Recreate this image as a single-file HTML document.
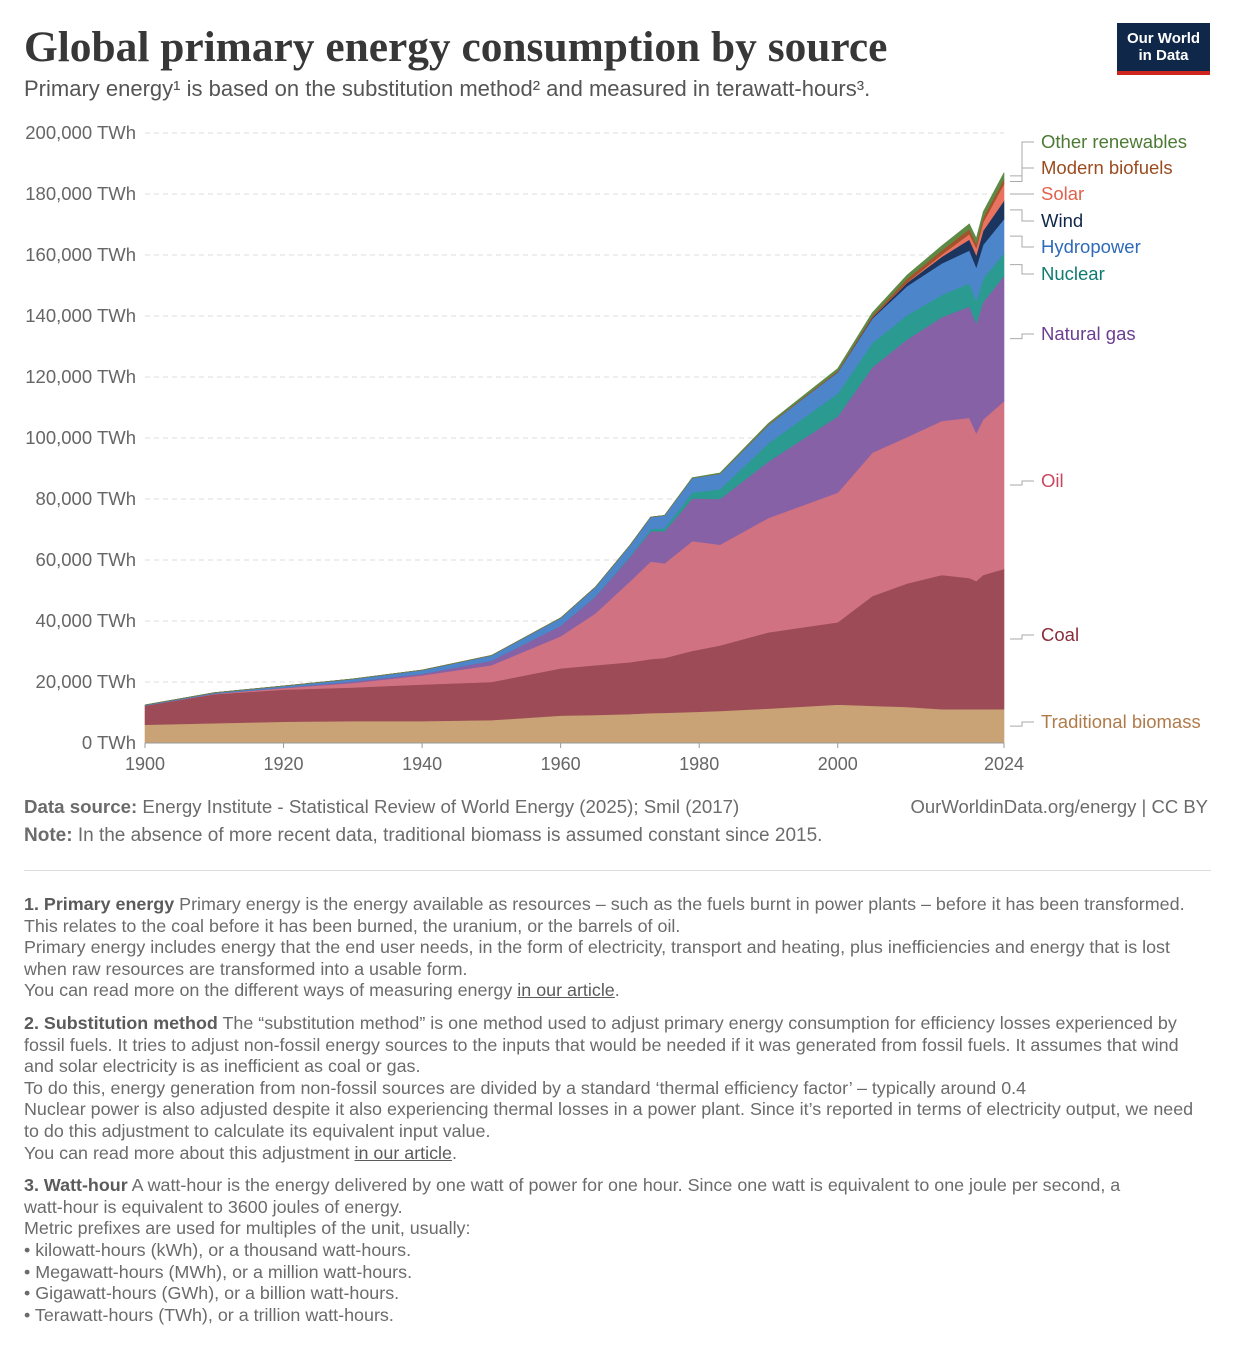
<!DOCTYPE html>
<html><head><meta charset="utf-8">
<style>
body{margin:0;background:#fff;width:1234px;height:1350px;overflow:hidden;font-family:"Liberation Sans",sans-serif;color:#5b5b5b;position:relative}
.abs{position:absolute}
h1{position:absolute;left:24px;top:22px;margin:0;font-family:"Liberation Serif",serif;font-weight:bold;font-size:43.4px;color:#373737;white-space:nowrap}
.sub{left:24px;top:76px;font-size:22px;color:#555;white-space:nowrap}
.logo{left:1117px;top:23px;width:93px;height:52px;background:#0f2749;color:#fff;font-size:15px;text-align:center;line-height:17px;border-bottom:4px solid #ce261e;box-sizing:border-box;padding-top:7px;font-weight:bold}
.foot{font-size:18.5px;color:#6b6b6b;white-space:nowrap}
.notes{left:24px;top:894px;width:1200px;font-size:17.9px;line-height:21.6px;color:#6b6b6b;white-space:nowrap}
.notes p{margin:0 0 11px 0}
.notes b{color:#5b5b5b}
.notes u{color:#5b5b5b}
</style></head><body>
<h1>Global primary energy consumption by source</h1>
<div class="abs sub">Primary energy¹ is based on the substitution method² and measured in terawatt-hours³.</div>
<div class="abs logo">Our World<br>in Data</div>
<svg class="abs" style="left:0;top:110px" width="1234" height="670" id="chart"></svg>
<div class="abs foot" style="left:24px;top:796px;font-size:18.7px"><b>Data source:</b> Energy Institute - Statistical Review of World Energy (2025); Smil (2017)</div>
<div class="abs foot" style="right:26px;top:796px">OurWorldinData.org/energy | CC BY</div>
<div class="abs foot" style="left:24px;top:825px;font-size:19px"><b>Note:</b> In the absence of more recent data, traditional biomass is assumed constant since 2015.</div>
<div class="abs" style="left:24px;top:870px;width:1187px;border-top:1px solid #ddd"></div>
<div class="abs notes">
<p><b>1. Primary energy</b> Primary energy is the energy available as resources – such as the fuels burnt in power plants – before it has been transformed.<br>This relates to the coal before it has been burned, the uranium, or the barrels of oil.<br>Primary energy includes energy that the end user needs, in the form of electricity, transport and heating, plus inefficiencies and energy that is lost<br>when raw resources are transformed into a usable form.<br>You can read more on the different ways of measuring energy <u>in our article</u>.</p>
<p><b>2. Substitution method</b> The “substitution method” is one method used to adjust primary energy consumption for efficiency losses experienced by<br>fossil fuels. It tries to adjust non-fossil energy sources to the inputs that would be needed if it was generated from fossil fuels. It assumes that wind<br>and solar electricity is as inefficient as coal or gas.<br>To do this, energy generation from non-fossil sources are divided by a standard ‘thermal efficiency factor’ – typically around 0.4<br>Nuclear power is also adjusted despite it also experiencing thermal losses in a power plant. Since it’s reported in terms of electricity output, we need<br>to do this adjustment to calculate its equivalent input value.<br>You can read more about this adjustment <u>in our article</u>.</p>
<p><b>3. Watt-hour</b> A watt-hour is the energy delivered by one watt of power for one hour. Since one watt is equivalent to one joule per second, a<br>watt-hour is equivalent to 3600 joules of energy.<br>Metric prefixes are used for multiples of the unit, usually:<br>• kilowatt-hours (kWh), or a thousand watt-hours.<br>• Megawatt-hours (MWh), or a million watt-hours.<br>• Gigawatt-hours (GWh), or a billion watt-hours.<br>• Terawatt-hours (TWh), or a trillion watt-hours.</p>
</div>
<script>
const years   =[1900,1910,1920,1930,1940,1950,1960,1965,1970,1973,1975,1979,1983,1990,2000,2005,2010,2015,2019,2020,2021,2024];
const biomass =[6000,6500,7000,7200,7200,7500,9000,9200,9500,9800,9900,10200,10500,11300,12600,12200,11800,11100,11100,11100,11100,11100];
const coal    =[6300,9500,10500,11000,12000,12500,15500,16300,17000,17700,18000,20000,21500,25000,27000,36000,40500,44000,43000,42000,44000,46000];
const oil     =[0,100,500,1500,3000,5500,10500,17000,26500,32000,31000,36000,33000,37500,42500,47000,48000,50500,52500,48500,51000,55000];
const gas     =[0,100,200,500,500,1500,3500,5500,8000,10000,10500,14000,15000,18500,25000,28000,32000,34000,36500,36000,38500,41000];
const nuclear =[0,0,0,0,0,0,0,100,300,700,1000,2000,3200,6000,7500,8000,8000,7300,7600,7400,7800,7500];
const hydro   =[200,300,500,800,1200,1700,2500,3000,3500,3900,4200,4700,5100,6000,7000,8000,9500,10300,10800,11000,11000,11200];
const wind    =[0,0,0,0,0,0,0,0,0,0,0,0,0,0,100,300,1100,2200,3600,4000,4600,6000];
const solar   =[0,0,0,0,0,0,0,0,0,0,0,0,0,0,0,20,100,700,1800,2300,2800,5500];
const biofuel =[0,0,0,0,0,0,0,0,0,0,0,0,50,150,300,600,1200,1400,1600,1400,1500,1600];
const other   =[0,0,0,0,0,0,0,0,0,0,0,100,200,400,800,1000,1200,1500,1700,1800,1900,2100];
const yTicks=[0,20000,40000,60000,80000,100000,120000,140000,160000,180000,200000];
const xTicks=[1900,1920,1940,1960,1980,2000,2024];
const series=[
 ["traditional-biomass","Traditional biomass",biomass,"#c9a275","#b07b4b"],
 ["coal","Coal",coal,"#9d4c57","#8a2d3a"],
 ["oil","Oil",oil,"#d07282","#c8495f"],
 ["natural-gas","Natural gas",gas,"#8761a6","#6b3e91"],
 ["nuclear","Nuclear",nuclear,"#2b9a91","#0f7a70"],
 ["hydropower","Hydropower",hydro,"#4d85cb","#2e6ab8"],
 ["wind","Wind",wind,"#1c355f","#0f2749"],
 ["solar","Solar",solar,"#e9735e","#e0624c"],
 ["modern-biofuels","Modern biofuels",biofuel,"#a5512c","#9a4b1f"],
 ["other-renewables","Other renewables",other,"#5d8b45","#4c7a34"]];
const labelY=[727,640,486,339,279,252,226,199,173,147];
const svg=document.getElementById('chart');const NS='http://www.w3.org/2000/svg';const OY=110;
const X=y=>145+(y-1900)*(1004-145)/124;
const Y=v=>743-OY-v*(610/200000);
function mk(t,a){const e=document.createElementNS(NS,t);for(const k in a)e.setAttribute(k,a[k]);svg.appendChild(e);return e;}
yTicks.forEach(v=>{
 if(v>0){const l=mk('line',{x1:145,x2:1004,y1:Y(v),y2:Y(v),stroke:'#ddd','stroke-dasharray':'5,4'});
 
 }
 const t=mk('text',{x:136,y:Y(v)+6,'text-anchor':'end','font-size':18.5,fill:'#666'});t.textContent=v.toLocaleString('en-US')+' TWh';
 
 
});
const base=years.map(()=>0);
series.forEach((s,i)=>{
 const top=base.map((b,j)=>b+s[2][j]);
 let d='M'+years.map((y,j)=>X(y)+','+Y(top[j])).join('L');
 d+='L'+years.map((y,j)=>X(y)+','+Y(base[j])).reverse().join('L')+'Z';
 const p=mk('path',{d:d,fill:s[3],stroke:s[3],'stroke-width':0.6});
 
 
 const last=years.length-1;const mid=(top[last]+base[last])/2;
 const ly=labelY[i]-OY-5;
 const c=mk('polyline',{points:`1010,${Y(mid)} 1022,${Y(mid)} 1022,${ly} 1034,${ly}`,fill:'none',stroke:'#aaa','stroke-width':1});
 if(Math.abs(Y(mid)-ly)<3)c.setAttribute('points',`1010,${ly} 1034,${ly}`);
 
 
 const t=mk('text',{x:1041,y:labelY[i]-OY+1,'font-size':18.5,fill:s[4]});t.textContent=s[1];
 
 
 for(let j=0;j<base.length;j++)base[j]=top[j];
});
const ax=mk('line',{x1:145,x2:1004,y1:Y(0),y2:Y(0),stroke:'#999'});


xTicks.forEach(y=>{
 const tk=mk('line',{x1:X(y),x2:X(y),y1:Y(0),y2:Y(0)+5,stroke:'#999'});
 
 
 const t=mk('text',{x:X(y),y:Y(0)+27,'text-anchor':'middle','font-size':18,fill:'#666'});t.textContent=y;
 
 
});
</script>
</body></html>
